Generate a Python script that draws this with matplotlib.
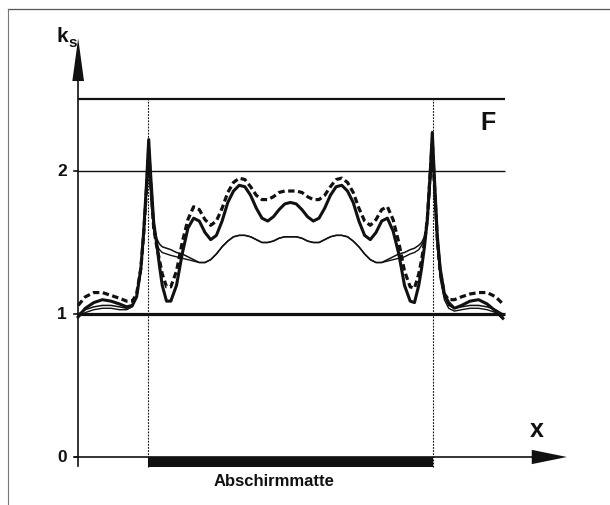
import numpy as np
import matplotlib
matplotlib.use("Agg")
import matplotlib.pyplot as plt

# --- data (x: position, mat edges at -1 / +1 ; k_s values) ---
x_pos = [-1.49, -1.44, -1.38, -1.32, -1.26, -1.20, -1.15, -1.11, -1.08, -1.05,
         -1.03, -1.01, -0.995, -0.98, -0.96, -0.94, -0.92, -0.90, -0.87, -0.84,
         -0.80, -0.76, -0.72, -0.68, -0.64, -0.60, -0.56, -0.52, -0.48, -0.44,
         -0.40, -0.36, -0.32, -0.28, -0.24, -0.20, -0.16, -0.12, -0.08, -0.04,
         0.00,
         0.04, 0.08, 0.12, 0.16, 0.20, 0.24, 0.28, 0.32, 0.36, 0.40,
         0.44, 0.48, 0.52, 0.56, 0.60, 0.64, 0.68, 0.72, 0.76, 0.80,
         0.84, 0.87, 0.90, 0.92, 0.94, 0.96, 0.98, 0.995, 1.01, 1.03,
         1.05, 1.08, 1.11, 1.15, 1.20, 1.26, 1.32, 1.38, 1.44, 1.49]

k_thick = [0.98, 1.04, 1.08, 1.10, 1.09, 1.07, 1.05, 1.06, 1.12, 1.32,
           1.58, 1.92, 2.22, 1.95, 1.64, 1.50, 1.34, 1.20, 1.09, 1.09,
           1.20, 1.42, 1.60, 1.67, 1.65, 1.57, 1.52, 1.55, 1.65, 1.78,
           1.86, 1.90, 1.89, 1.83, 1.74, 1.67, 1.65, 1.68, 1.73, 1.77,
           1.78,
           1.77, 1.73, 1.68, 1.65, 1.67, 1.74, 1.83, 1.89, 1.90, 1.86,
           1.78, 1.65, 1.55, 1.52, 1.57, 1.65, 1.67, 1.58, 1.42, 1.20,
           1.09, 1.08, 1.20, 1.32, 1.47, 1.66, 1.98, 2.27, 1.95, 1.55,
           1.32, 1.14, 1.08, 1.04, 1.06, 1.09, 1.10, 1.07, 1.02, 0.97]

k_dashed = [1.06, 1.12, 1.15, 1.15, 1.13, 1.11, 1.09, 1.09, 1.14, 1.32,
            1.56, 1.88, 2.15, 1.90, 1.60, 1.48, 1.38, 1.28, 1.19, 1.19,
            1.30, 1.50, 1.66, 1.75, 1.73, 1.66, 1.62, 1.65, 1.74, 1.85,
            1.92, 1.95, 1.94, 1.89, 1.83, 1.80, 1.80, 1.82, 1.85, 1.86,
            1.86,
            1.86, 1.85, 1.82, 1.80, 1.80, 1.83, 1.89, 1.94, 1.95, 1.92,
            1.85, 1.74, 1.65, 1.62, 1.66, 1.73, 1.75, 1.66, 1.50, 1.30,
            1.19, 1.18, 1.28, 1.38, 1.50, 1.66, 1.98, 2.20, 1.90, 1.52,
            1.30, 1.14, 1.10, 1.10, 1.12, 1.14, 1.15, 1.15, 1.12, 1.07]

k_thin_a = [1.00, 1.03, 1.05, 1.06, 1.06, 1.05, 1.04, 1.06, 1.12, 1.30,
            1.55, 1.85, 2.10, 1.85, 1.62, 1.53, 1.49, 1.47, 1.46, 1.45,
            1.43, 1.42, 1.40, 1.38, 1.36, 1.36, 1.38, 1.42, 1.47, 1.51,
            1.54, 1.55, 1.55, 1.54, 1.52, 1.50, 1.50, 1.51, 1.53, 1.54,
            1.54,
            1.54, 1.53, 1.51, 1.50, 1.50, 1.52, 1.54, 1.55, 1.55, 1.54,
            1.51, 1.47, 1.42, 1.38, 1.36, 1.36, 1.38, 1.40, 1.42, 1.43,
            1.45, 1.46, 1.48, 1.50, 1.54, 1.65, 1.90, 2.15, 1.85, 1.50,
            1.28, 1.12, 1.06, 1.04, 1.05, 1.06, 1.06, 1.05, 1.03, 1.00]

k_thin_b = [0.98, 1.01, 1.03, 1.04, 1.04, 1.03, 1.03, 1.05, 1.12, 1.30,
            1.55, 1.85, 2.10, 1.80, 1.58, 1.49, 1.45, 1.43, 1.42, 1.41,
            1.40, 1.39, 1.38, 1.37, 1.36, 1.36, 1.38, 1.42, 1.47, 1.51,
            1.54, 1.55, 1.55, 1.54, 1.52, 1.50, 1.50, 1.51, 1.53, 1.54,
            1.54,
            1.54, 1.53, 1.51, 1.50, 1.50, 1.52, 1.54, 1.55, 1.55, 1.54,
            1.51, 1.47, 1.42, 1.38, 1.36, 1.36, 1.37, 1.38, 1.39, 1.40,
            1.42, 1.43, 1.45, 1.48, 1.52, 1.62, 1.88, 2.15, 1.80, 1.48,
            1.25, 1.10, 1.04, 1.02, 1.03, 1.04, 1.04, 1.03, 1.01, 0.98]

mat_edges = [-1.0, 1.0]
ref_levels = [1.0, 2.0, 2.5]      # k = 1 line, k = 2 line, F line
y_ticks = [0, 1, 2]
y_ticklabels = ["0", "1", "2"]

# --- figure, one axes over the whole canvas ---
fig = plt.figure(figsize=(6.1, 5.06), dpi=100)
ax = fig.add_axes([0, 0, 1, 1])
ax.set_xlim(-2.0386, 2.2421)
ax.set_ylim(-0.3357, 3.2028)
ax.axis("off")

x_axis0 = -1.49      # position of the k axis
x_end = 1.505        # where the horizontal lines stop
ink = "#111111"
font = ["Liberation Sans", "DejaVu Sans"]

# scan frame (top and left edge)
ax.plot([-1.982, 2.242], [3.133, 3.133], color="#555555", lw=0.9)
ax.plot([-1.982, -1.982], [3.133, -0.34], color="#777777", lw=0.8)

# reference lines
ax.hlines(ref_levels[0], x_axis0, x_end, color=ink, lw=2.3)
ax.hlines(ref_levels[1], x_axis0, x_end, color=ink, lw=1.0)
ax.hlines(ref_levels[2], x_axis0, x_end, color=ink, lw=1.6)

# edges of the mat (dotted verticals) and the mat itself
ax.vlines(mat_edges, -0.07, ref_levels[2], color=ink, lw=0.8,
          linestyles=(0, (1.6, 1.2)))
ax.fill_between(mat_edges, -0.068, 0, color=ink, lw=0)

# curves
ax.plot(x_pos, k_thin_b, color=ink, lw=1.0, solid_joinstyle="round")
ax.plot(x_pos, k_thin_a, color=ink, lw=1.1, solid_joinstyle="round")
ax.plot(x_pos, k_thick, color=ink, lw=2.2, solid_joinstyle="round")
ax.plot(x_pos, k_dashed, color=ink, lw=2.3, linestyle=(0, (2.0, 1.1)))

# axes with arrow heads
ax.plot([x_axis0, x_axis0], [-0.063, 2.64], color=ink, lw=1.2)
ax.fill([x_axis0 - 0.041, x_axis0 + 0.041, x_axis0],
        [2.629, 2.629, 2.928], color=ink, lw=0)
ax.plot([-1.512, 1.70], [0, 0], color=ink, lw=1.2)
ax.fill([1.693, 1.693, 1.940], [-0.05, 0.05, 0], color=ink, lw=0)

# y ticks and tick labels
for t, lab in zip(y_ticks, y_ticklabels):
    ax.plot([x_axis0 - 0.03, x_axis0], [t, t], color=ink, lw=1.2)
    ax.text(-1.568, t, lab, ha="right", va="center", fontsize=12.5,
            fontweight="bold", family=font, color=ink)

# labels
ax.text(-1.604, 2.951, "k", ha="center", va="center", fontsize=15,
        fontweight="bold", family=font, color=ink)
ax.text(-1.528, 2.900, "s", ha="center", va="center", fontsize=11,
        fontweight="bold", family=font, color=ink)
ax.text(1.389, 2.346, "F", ha="center", va="center", fontsize=18,
        fontweight="bold", family=font, color=ink)
ax.text(1.730, 0.195, "x", ha="center", va="center", fontsize=18,
        fontweight="bold", family=font, color=ink)
ax.text(-0.119, -0.164, "Abschirmmatte", ha="center", va="center",
        fontsize=12, fontweight="bold", family=font, color=ink)

plt.savefig("out.png", dpi=100)
